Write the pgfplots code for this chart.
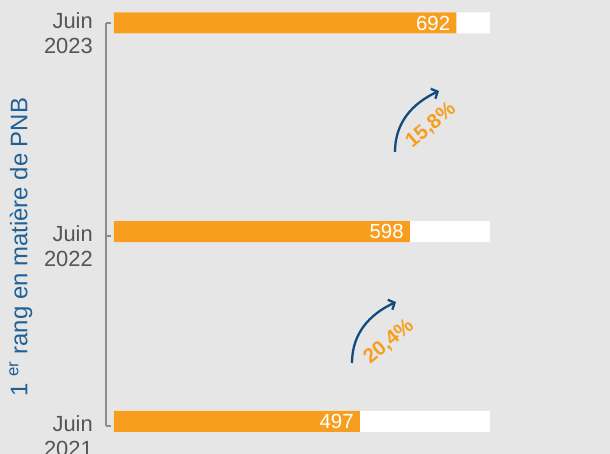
\documentclass[border=0pt]{standalone}
\usepackage{pgfplots}
\pgfplotsset{compat=1.18}
\usepackage{fontspec}
\setmainfont{Liberation Sans}
\usetikzlibrary{arrows.meta}
\definecolor{bg}{RGB}{230,230,230}
\definecolor{orng}{RGB}{247,158,30}
\definecolor{navy}{RGB}{16,76,126}
\definecolor{lblue}{RGB}{32,96,150}
\definecolor{axgray}{RGB}{140,140,140}
\definecolor{txtgray}{RGB}{85,85,85}
\begin{document}
\begin{tikzpicture}
\useasboundingbox[fill=bg] (0,0) rectangle (610bp,454bp);
\begin{axis}[
  at={(106bp,28bp)}, anchor=south west,
  scale only axis, width=384bp, height=403bp,
  xmin=-16.16, xmax=760, ymin=-0.0226, ymax=2,
  clip=false,
  axis x line=none,
  axis y line=left,
  axis line style={-},
  y axis line style={-, draw=axgray, line width=2.4bp},
  ytick={-0.0226,0.931,2},
  yticklabels={{Juin\\2021},{Juin\\2022},{Juin\\2023}},
  tick align=inside,
  major tick length=5bp,
  major tick style={draw=axgray, line width=2.2bp},
  yticklabel style={align=right, anchor=east, inner sep=0pt, xshift=-13bp, yshift=-10bp,
    font=\fontsize{22}{25}\selectfont, text=txtgray},
  ylabel={1 \textsuperscript{er} rang en matière de PNB},
  ylabel style={at={(axis description cs:-0.222,0.444)}, anchor=center,
    font=\fontsize{24}{28}\selectfont, text=lblue},
  /pgf/number format/assume math mode=true,
]
\addplot[xbar, bar shift=0pt, bar width=21bp, fill=white, draw=none]
  coordinates {(760,0) (760,0.953) (760,2)};
\addplot[xbar, bar shift=0pt, bar width=21bp, fill=orng, draw=none,
  point meta=x, nodes near coords,
  nodes near coords style={anchor=east, text=white, inner sep=0pt, xshift=-6bp,
    font=\fontsize{20.5}{24}\selectfont}]
  coordinates {(692,2) (598,0.953) (497,0)};
\draw[axgray, line width=2.4bp] (axis cs:-16.16,-0.0226) -- (axis cs:-16.16,2);
\end{axis}
\draw[navy, line width=2.3bp, -{Straight Barb[length=5bp,width=11bp]}]
  (395bp,302bp) to[out=90,in=205] (439bp,363bp);
\draw[navy, line width=2.3bp, -{Straight Barb[length=5bp,width=11bp]}]
  (352bp,91bp) to[out=90,in=205] (396bp,152bp);
\node[rotate=40, text=orng, font=\bfseries\fontsize{20.5}{24}\selectfont] at (431bp,328.5bp) {15,8\%};
\node[rotate=40, text=orng, font=\bfseries\fontsize{20.5}{24}\selectfont] at (389bp,112bp) {20,4\%};
\end{tikzpicture}
\end{document}
